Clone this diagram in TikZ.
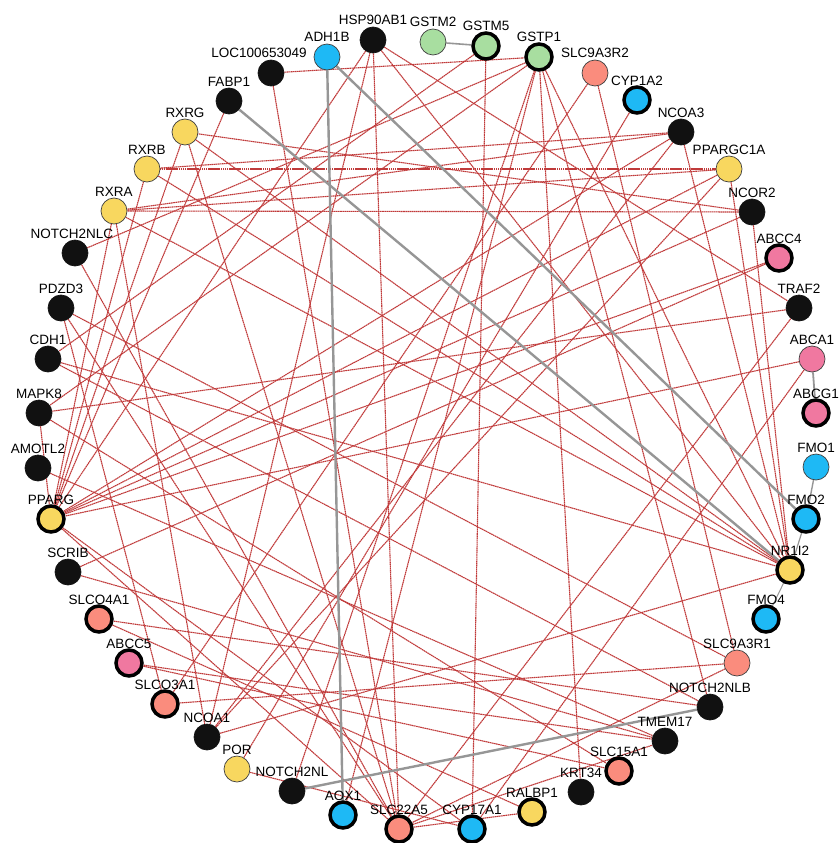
\documentclass[tikz,border=0pt]{standalone}
\usepackage{fontspec}
\setmainfont{Liberation Sans}
\usetikzlibrary{backgrounds}

\definecolor{cBlack}{RGB}{17,17,17}
\definecolor{cYellow}{RGB}{248,215,95}
\definecolor{cGreen}{RGB}{168,222,160}
\definecolor{cBlue}{RGB}{30,185,245}
\definecolor{cSalmon}{RGB}{250,140,125}
\definecolor{cPink}{RGB}{240,120,160}
\definecolor{cRedEdge}{RGB}{192,58,58}
\definecolor{cGrayEdge}{RGB}{150,150,150}

% gene node: [label x-shift]{name}{x}{y}{style}
\newcommand{\gene}[5][0]{%
  \node[#5] (#2) at (#3,#4) {};
  \node[lbl] at ({#3+#1},{#4-15}) {#2};}

\begin{document}
\begin{tikzpicture}[x=1pt,y=1pt,yscale=-1,
  gn/.style={circle,minimum size=26pt,inner sep=0pt,draw=black!75,line width=0.7pt},
  thk/.style={draw=black,line width=3.5pt},
  blk/.style={gn,fill=cBlack,draw=cBlack},
  yel/.style={gn,fill=cYellow},
  grn/.style={gn,fill=cGreen},
  blu/.style={gn,fill=cBlue},
  sal/.style={gn,fill=cSalmon},
  pnk/.style={gn,fill=cPink},
  lbl/.style={font=\fontsize{13.5}{16}\selectfont,anchor=base,inner sep=0pt},
  redge/.style={draw=cRedEdge,line width=1.1pt,dash pattern=on 1.6pt off 0.5pt},
  gedge/.style={draw=cGrayEdge,line width=2.4pt}]

\useasboundingbox (0,0) rectangle (840,843);

% genes, clockwise from the top
\gene{HSP90AB1}{373}{40}{blk}
\gene{GSTM2}{433}{42}{grn}
\gene{GSTM5}{486}{46}{grn,thk}
\gene{GSTP1}{539}{57}{grn,thk}
\gene{SLC9A3R2}{595}{73}{sal}
\gene{CYP1A2}{637}{100}{blu,thk}
\gene{NCOA3}{681}{132}{blk}
\gene{PPARGC1A}{729}{169}{yel}
\gene{NCOR2}{752}{212}{blk}
\gene{ABCC4}{779}{258}{pnk,thk}
\gene{TRAF2}{799}{308}{blk}
\gene{ABCA1}{812}{359}{pnk}
\gene{ABCG1}{816}{413}{pnk,thk}
\gene{FMO1}{816}{467}{blu}
\gene{FMO2}{806}{519}{blu,thk}
\gene{NR1I2}{790}{570}{yel,thk}
\gene{FMO4}{766}{619}{blu,thk}
\gene{SLC9A3R1}{737}{663}{sal}
\gene{NOTCH2NLB}{710}{707}{blk}
\gene{TMEM17}{665}{741}{blk}
\gene{SLC15A1}{619}{771}{sal,thk}
\gene{KRT34}{581}{792}{blk}
\gene{RALBP1}{532}{812}{yel,thk}
\gene{CYP17A1}{472}{829}{blu,thk}
\gene{SLC22A5}{399}{829}{sal,thk}
\gene{AOX1}{343}{815}{blu,thk}
\gene{NOTCH2NL}{292}{791}{blk}
\gene{POR}{237}{769}{yel}
\gene{NCOA1}{207}{737}{blk}
\gene{SLCO3A1}{165}{704}{sal,thk}
\gene{ABCC5}{129}{663}{pnk,thk}
\gene{SLCO4A1}{99}{619}{sal,thk}
\gene{SCRIB}{68}{572}{blk}
\gene{PPARG}{51}{519}{yel,thk}
\gene{AMOTL2}{38}{468}{blk}
\gene{MAPK8}{39}{413}{blk}
\gene{CDH1}{48}{359}{blk}
\gene{PDZD3}{61}{308}{blk}
\gene[-3]{NOTCH2NLC}{75}{253}{blk}
\gene{RXRA}{114}{211}{yel}
\gene{RXRB}{147}{169}{yel}
\gene{RXRG}{185}{132}{yel}
\gene{FABP1}{229}{101}{blk}
\gene[-12]{LOC100653049}{271}{73}{blk}
\gene{ADH1B}{327}{57}{blu}

\begin{scope}[on background layer]
% predicted interactions
\foreach \a/\b in {LOC100653049/GSTP1, LOC100653049/SLC22A5, FABP1/PPARG,
  HSP90AB1/PPARG, HSP90AB1/NR1I2, HSP90AB1/SLC22A5, HSP90AB1/TRAF2, HSP90AB1/NCOA1,
  GSTM5/CDH1, GSTM5/CYP17A1, GSTP1/MAPK8, GSTP1/NR1I2, GSTP1/NOTCH2NL, GSTP1/AOX1,
  GSTP1/KRT34, GSTP1/NOTCH2NLC, GSTP1/NOTCH2NLB, SLC9A3R2/SLCO3A1, SLC9A3R2/SLC9A3R1,
  CYP1A2/POR, NCOA3/RXRB, NCOA3/RXRA, NCOA3/NR1I2, NCOA3/PPARG, NCOA3/NCOA1,
  PPARGC1A/RXRA, PPARGC1A/RXRB, PPARGC1A/PPARG, PPARGC1A/NCOA1, PPARGC1A/NR1I2,
  NCOR2/RXRA, NCOR2/PPARG, NCOR2/NR1I2, NCOR2/RXRG, ABCC4/PPARG, TRAF2/MAPK8,
  TRAF2/SLC22A5, ABCA1/PPARG, ABCA1/CYP17A1, RXRA/PPARG, RXRB/PPARG, RXRG/PPARG,
  RXRA/NR1I2, RXRB/NR1I2, RXRG/NR1I2, RXRA/NCOA1, RXRG/SLC22A5, NOTCH2NLC/SLC22A5,
  PDZD3/SLCO3A1, PDZD3/SLC9A3R1, PDZD3/SLC22A5, CDH1/NR1I2, CDH1/NOTCH2NLB,
  MAPK8/PPARG, MAPK8/SLC15A1, AMOTL2/TMEM17, SCRIB/TMEM17, SCRIB/ABCC4,
  SLCO4A1/NOTCH2NLB, SLCO4A1/RALBP1, ABCC5/TMEM17, ABCC5/SLC15A1, SLCO3A1/SLC9A3R1,
  NCOA1/NR1I2, POR/CYP17A1, SLC9A3R1/SLC22A5, SLC22A5/RALBP1, SLC22A5/TMEM17,
  PPARG/SLC22A5, PPARG/CYP17A1}
  \draw[redge] (\a) -- (\b);
% shared pathways
\draw[gedge] (ADH1B) -- (AOX1);
\draw[gedge] (ADH1B) -- (FMO2);
\draw[gedge] (FABP1) -- (NR1I2);
\draw[gedge] (NOTCH2NL) -- (NOTCH2NLB);
\draw[gedge,line width=1.6pt] (GSTM2) -- (GSTM5);
\draw[gedge,line width=1.8pt] (ABCA1) -- (ABCG1);
\draw[gedge,line width=1.4pt] (FMO1) -- (FMO2);
\draw[gedge,line width=1.2pt] (FMO2) -- (NR1I2);
\draw[gedge,line width=1pt] (NR1I2) -- (FMO4);
\end{scope}

\end{tikzpicture}
\end{document}
